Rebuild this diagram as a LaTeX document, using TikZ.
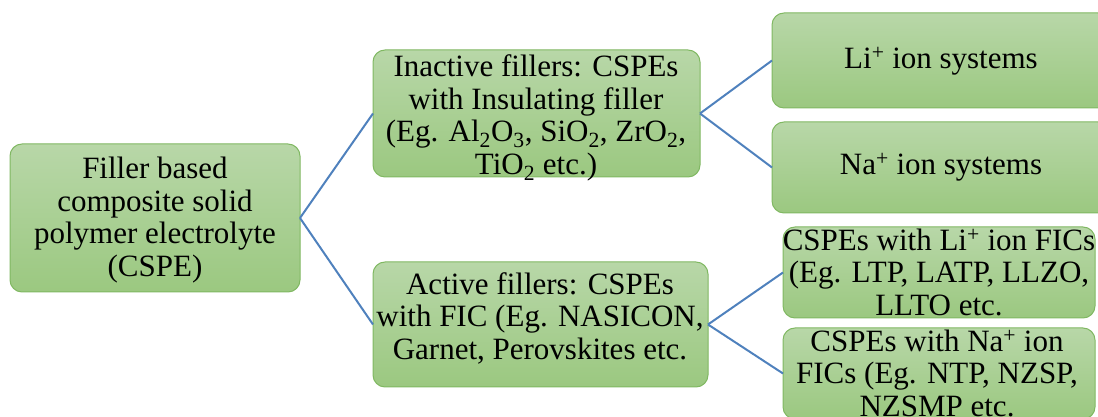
\documentclass[tikz,border=0pt]{standalone}
\usepackage{fontspec}
\setmainfont{Liberation Serif}
\definecolor{gtop}{RGB}{184,215,168}
\definecolor{gbot}{RGB}{155,200,128}
\definecolor{boxline}{RGB}{128,184,98}
\definecolor{lineblue}{RGB}{79,129,189}
\tikzset{
  box/.style={rounded corners=12pt, draw=boxline, line width=1pt, top color=gtop, bottom color=gbot, inner sep=0pt, outer sep=0pt},
  txt/.style={align=center, font=\fontsize{31}{32.5}\selectfont, inner sep=0pt},
  conn/.style={draw=lineblue, line width=2pt}
}
\begin{document}
\begin{tikzpicture}[x=1pt,y=1pt]
\useasboundingbox (0,0) rectangle (1098,417);
\clip (0,0) rectangle (1098,417);
% boxes (y = 417 - pixel y)
\node[box, minimum width=290pt, minimum height=148pt] (root) at (155,199) {};
\node[box, minimum width=327pt, minimum height=127pt] (inact) at (536.5,303.5) {};
\node[box, minimum width=335pt, minimum height=125pt] (act) at (540.5,92.5) {};
\node[box, minimum width=338pt, minimum height=95pt] (li) at (941,356.5) {};
\node[box, minimum width=338pt, minimum height=91pt] (na) at (941,249.5) {};
\node[box, minimum width=312pt, minimum height=91pt] (lific) at (939,144.5) {};
\node[box, minimum width=312pt, minimum height=91pt] (nafic) at (939,43.5) {};
% connectors
\draw[conn] (root.east) -- (inact.west);
\draw[conn] (root.east) -- (act.west);
\draw[conn] (inact.east) -- (li.west);
\draw[conn] (inact.east) -- (na.west);
\draw[conn] (act.east) -- (lific.west);
\draw[conn] (act.east) -- (nafic.west);
% texts
\node[txt] (troot) at (155,197) {Filler based\\composite solid\\polymer electrolyte\\(CSPE)};
\node[txt] (tinact) at (536,299) {Inactive fillers: CSPEs\\with Insulating filler\\(Eg. Al\textsubscript{2}O\textsubscript{3}, SiO\textsubscript{2}, ZrO\textsubscript{2},\\TiO\textsubscript{2} etc.)};
\node[txt] (tact) at (540,99) {Active fillers: CSPEs\\with FIC (Eg. NASICON,\\Garnet, Perovskites etc.};
\node[txt] (tli) at (941,356) {Li\textsuperscript{+} ion systems};
\node[txt] (tna) at (941,250) {Na\textsuperscript{+} ion systems};
\node[txt] (tlific) at (939,145) {CSPEs with Li\textsuperscript{+} ion FICs\\(Eg. LTP, LATP, LLZO,\\LLTO etc.};
\node[txt] (tnafic) at (937,44) {CSPEs with Na\textsuperscript{+} ion\\FICs (Eg. NTP, NZSP,\\NZSMP etc.};
\end{tikzpicture}
\end{document}
